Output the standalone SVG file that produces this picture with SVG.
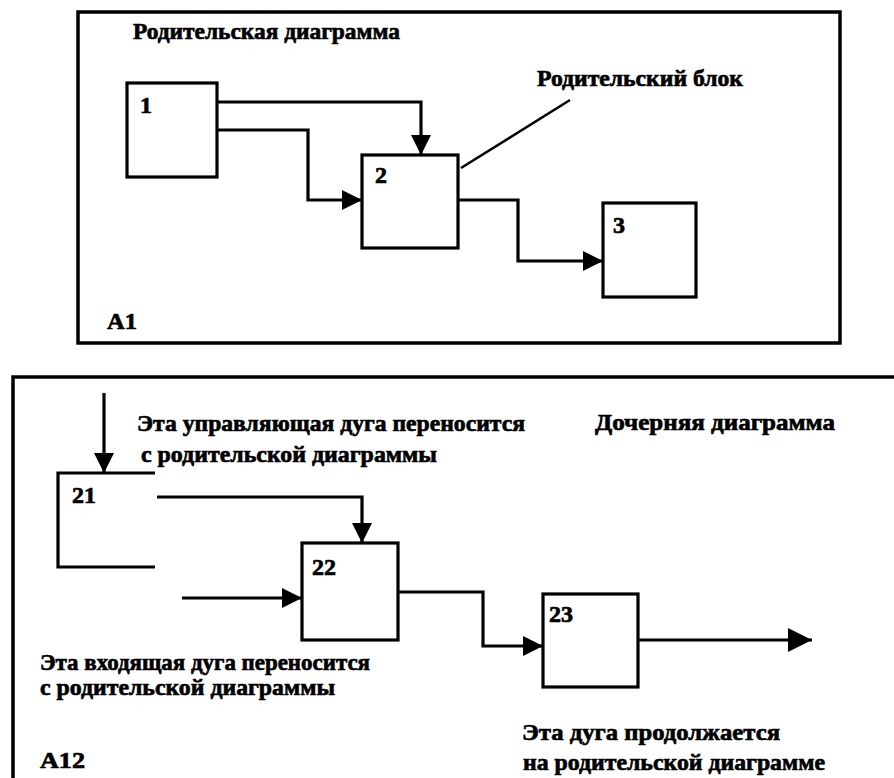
<svg xmlns="http://www.w3.org/2000/svg" width="894" height="778" viewBox="0 0 894 778">
<style>
.frame{fill:none;stroke:#000;stroke-width:3.5}
.box{fill:#fff;stroke:#000;stroke-width:3.2}
.con{fill:none;stroke:#000;stroke-width:3.2}
.lead{fill:none;stroke:#000;stroke-width:2.5}
text{font-family:"Liberation Serif","Times New Roman",serif;font-weight:bold;font-size:24px;fill:#000;stroke:#000;stroke-width:0.7}
</style>
<defs>
<marker id="ah" markerUnits="userSpaceOnUse" markerWidth="22" markerHeight="22" refX="20" refY="10" orient="auto">
<path d="M0,0 L20,10 L0,20 Z" fill="#000"/>
</marker>
<marker id="ahL" markerUnits="userSpaceOnUse" markerWidth="26" markerHeight="26" refX="24" refY="12" orient="auto">
<path d="M0,0 L24,12 L0,24 Z" fill="#000"/>
</marker>
</defs>
<rect width="894" height="778" fill="#fff"/>

<g id="parent-frame">
<rect class="frame" x="78" y="12" width="762" height="331"/>
<text x="133" y="39" textLength="267" lengthAdjust="spacingAndGlyphs">Родительская диаграмма</text>
<text x="107" y="329" textLength="30" lengthAdjust="spacingAndGlyphs">A1</text>
</g>

<g id="child-frame">
<path class="frame" d="M13,900 V377 H900"/>
<text x="595" y="430" textLength="240" lengthAdjust="spacingAndGlyphs">Дочерняя диаграмма</text>
<text x="40" y="768" textLength="45" lengthAdjust="spacingAndGlyphs">A12</text>
</g>

<g id="connectors">
<path class="con" d="M217,102 H421 V155" marker-end="url(#ah)"/>
<path class="con" d="M217,130 H308 V200 H362" marker-end="url(#ah)"/>
<path class="con" d="M458,200 H518 V261 H603" marker-end="url(#ah)"/>
<path class="lead" d="M461,168 L570,100"/>
<path class="con" d="M104,393 V473" marker-end="url(#ah)"/>
<path class="con" d="M157,497 H362 V543" marker-end="url(#ah)"/>
<path class="con" d="M182,598 H302" marker-end="url(#ah)"/>
<path class="con" d="M398,592 H483 V646 H543" marker-end="url(#ah)"/>
<path class="con" d="M638,640 H812" marker-end="url(#ahL)"/>
</g>

<g id="node-1">
<rect class="box" x="127" y="83" width="90" height="94"/>
<text x="140" y="113">1</text>
</g>
<g id="node-2">
<rect class="box" x="362" y="155" width="96" height="93"/>
<text x="375" y="183">2</text>
</g>
<g id="node-3">
<rect class="box" x="603" y="203" width="93" height="94"/>
<text x="613" y="233">3</text>
</g>
<g id="label-parent-block">
<text x="537" y="86" textLength="206" lengthAdjust="spacingAndGlyphs">Родительский блок</text>
</g>

<g id="node-21">
<path class="con" d="M155,473 H58 V567 H155"/>
<text x="72" y="503">21</text>
</g>
<g id="node-22">
<rect class="box" x="302" y="543" width="96" height="97"/>
<text x="312" y="575">22</text>
</g>
<g id="node-23">
<rect class="box" x="543" y="594" width="95" height="93"/>
<text x="549" y="622">23</text>
</g>

<g id="notes">
<text x="137" y="431" textLength="388" lengthAdjust="spacingAndGlyphs">Эта управляющая дуга переносится</text>
<text x="141" y="462" textLength="296" lengthAdjust="spacingAndGlyphs">с родительской диаграммы</text>
<text x="40" y="670" textLength="330" lengthAdjust="spacingAndGlyphs">Эта входящая дуга переносится</text>
<text x="40" y="695" textLength="295" lengthAdjust="spacingAndGlyphs">с родительской диаграммы</text>
<text x="522" y="740" textLength="258" lengthAdjust="spacingAndGlyphs">Эта дуга продолжается</text>
<text x="523" y="770" textLength="302" lengthAdjust="spacingAndGlyphs">на родительской диаграмме</text>
</g>
</svg>
